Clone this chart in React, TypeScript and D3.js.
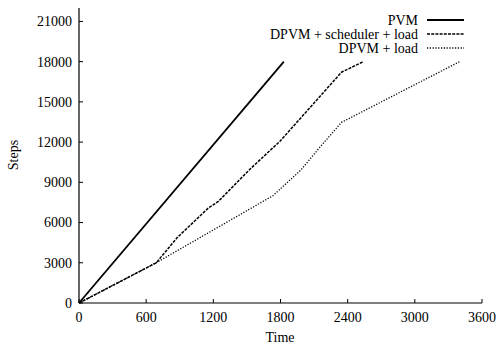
import { useEffect, useRef } from "react";
import * as d3 from "d3";

const xTicks = [0, 600, 1200, 1800, 2400, 3000, 3600];
const yTicks = [0, 3000, 6000, 9000, 12000, 15000, 18000, 21000];

const pvmTime = [0, 1830];
const pvmSteps = [0, 18000];

const schedTime = [0, 690, 880, 1155, 1244, 1530, 1795, 2345, 2540];
const schedSteps = [0, 3000, 4900, 7080, 7570, 10000, 12060, 17210, 18000];

const loadTime = [0, 690, 1200, 1732, 1980, 2150, 2345, 3400];
const loadSteps = [0, 3000, 5450, 8000, 9900, 11600, 13470, 18000];

const seriesNames = ["PVM", "DPVM + scheduler + load", "DPVM + load"];
const seriesDash = ["none", "3,1.2", "1.2,1.6"];
const seriesWidth = [1.8, 1.5, 1.3];

export default function App() {
  const svgRef = useRef<SVGSVGElement>(null);

  useEffect(() => {
    if (!svgRef.current) return;
    const svg = d3.select(svgRef.current);
    svg.selectAll("*").remove();

    const font = "'Liberation Serif', 'Times New Roman', serif";
    const x = d3.scaleLinear().domain([0, 3600]).range([79, 482]);
    const y = d3.scaleLinear().domain([0, 22000]).range([303, 8]);

    const series = [
      pvmTime.map((t, i) => [t, pvmSteps[i]]),
      schedTime.map((t, i) => [t, schedSteps[i]]),
      loadTime.map((t, i) => [t, loadSteps[i]]),
    ];

    // axes
    const g = svg.append("g").attr("font-family", font).attr("font-size", "14px");
    g.append("line")
      .attr("x1", x(0)).attr("x2", x(0))
      .attr("y1", y(0)).attr("y2", 8)
      .attr("stroke", "#000").attr("stroke-width", 1.2);
    g.append("line")
      .attr("x1", x(0)).attr("x2", x(3600))
      .attr("y1", y(0)).attr("y2", y(0))
      .attr("stroke", "#000").attr("stroke-width", 1.2);

    yTicks.forEach((v) => {
      g.append("line")
        .attr("x1", x(0)).attr("x2", x(0) + 4)
        .attr("y1", y(v)).attr("y2", y(v))
        .attr("stroke", "#000");
      g.append("text")
        .attr("x", x(0) - 7)
        .attr("y", y(v))
        .attr("dy", "0.35em")
        .attr("text-anchor", "end")
        .text(v);
    });

    xTicks.forEach((v) => {
      g.append("line")
        .attr("x1", x(v)).attr("x2", x(v))
        .attr("y1", y(0)).attr("y2", y(0) - 4)
        .attr("stroke", "#000");
      g.append("text")
        .attr("x", x(v))
        .attr("y", 322)
        .attr("text-anchor", "middle")
        .text(v);
    });

    g.append("text")
      .attr("x", 280)
      .attr("y", 342)
      .attr("text-anchor", "middle")
      .text("Time");
    g.append("text")
      .attr("transform", "translate(18,155) rotate(-90)")
      .attr("text-anchor", "middle")
      .text("Steps");

    // lines
    const line = d3
      .line<number[]>()
      .x((d) => x(d[0]))
      .y((d) => y(d[1]));

    series.forEach((s, i) => {
      svg.append("path")
        .attr("d", line(s))
        .attr("fill", "none")
        .attr("stroke", "#000")
        .attr("stroke-width", seriesWidth[i])
        .attr("stroke-dasharray", seriesDash[i]);
    });

    // legend
    seriesNames.forEach((name, i) => {
      const ly = 20 + i * 14;
      g.append("text")
        .attr("x", 418)
        .attr("y", ly)
        .attr("dy", "0.35em")
        .attr("text-anchor", "end")
        .text(name);
      svg.append("line")
        .attr("x1", 427).attr("x2", 464)
        .attr("y1", ly).attr("y2", ly)
        .attr("stroke", "#000")
        .attr("stroke-width", seriesWidth[i])
        .attr("stroke-dasharray", seriesDash[i]);
    });
  }, []);

  return (
    <svg
      ref={svgRef}
      width={496}
      height={345}
      style={{ position: "absolute", left: 0, top: 0, background: "#fff" }}
    />
  );
}
